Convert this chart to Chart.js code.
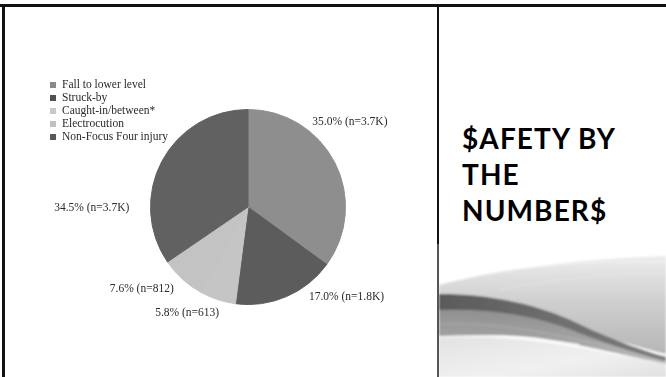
<!DOCTYPE html>
<html>
<head>
<meta charset="utf-8">
<script src="https://cdn.jsdelivr.net/npm/chart.js@4.4.1/dist/chart.umd.min.js"></script>
<style>
  html, body { margin: 0; padding: 0; background: #fff; }
  #slide { position: relative; width: 666px; height: 377px; overflow: hidden; background: #fff; }
  #chartBox { position: absolute; left: 0; top: 0; width: 436px; height: 377px; }
  .rule { position: absolute; background: #111; }
  #title {
    position: absolute; left: 462px; top: 120px;
    font-family: Lato, "DejaVu Sans", sans-serif; font-weight: 700;
    font-size: 28px; line-height: 36px; color: #000; letter-spacing: 1.1px;
  }
  #swoosh { position: absolute; left: 439px; top: 240px; }
</style>
</head>
<body>
<div id="slide">
  <div id="chartBox"><canvas id="injuryPie"></canvas></div>

  <svg id="swoosh" width="227" height="137" viewBox="0 0 227 137">
    <defs>
      <linearGradient id="washFill" x1="0" y1="0" x2="0" y2="1">
        <stop offset="0" stop-color="#ececec"/>
        <stop offset="0.45" stop-color="#d0d0d0"/>
        <stop offset="1" stop-color="#b6b6b6"/>
      </linearGradient>
      <linearGradient id="midFill" x1="0" y1="0" x2="0" y2="1">
        <stop offset="0" stop-color="#8a8a8a"/>
        <stop offset="0.6" stop-color="#a2a2a2"/>
        <stop offset="1" stop-color="#bcbcbc"/>
      </linearGradient>
      <linearGradient id="stripeFill" x1="0" y1="0" x2="1" y2="0">
        <stop offset="0" stop-color="#5a5a5a"/>
        <stop offset="0.5" stop-color="#6e6e6e"/>
        <stop offset="1" stop-color="#7c7c7c"/>
      </linearGradient>
      <linearGradient id="floorFill" x1="0" y1="0" x2="1" y2="1">
        <stop offset="0" stop-color="#e2e2e2"/>
        <stop offset="0.6" stop-color="#f1f1f1"/>
        <stop offset="1" stop-color="#e0e0e0"/>
      </linearGradient>
      <filter id="soft"><feGaussianBlur stdDeviation="0.8"/></filter>
    </defs>
    <g filter="url(#soft)">
      <path d="M0,45 C60,29 140,19 227,16 L227,114 C170,100 90,72 0,58 Z" fill="url(#washFill)"/>
      <path d="M0,60 C50,62 100,72 150,92 C185,106 210,114 227,118 L227,124 C190,116 140,104 100,98 C60,93 30,96 0,98 Z" fill="url(#midFill)"/>
      <path d="M0,54 C45,54 95,62 140,84 C178,102 208,112 227,117 L227,121 C205,116 175,106 140,93 C95,74 45,68 0,70 Z" fill="url(#stripeFill)"/>
      <path d="M0,98 C50,94 110,100 227,124 L227,137 L0,137 Z" fill="url(#floorFill)"/>
      <path d="M20,40 C80,26 150,20 227,22" stroke="#f4f4f4" stroke-width="1.2" fill="none" opacity="0.8"/>
      <path d="M60,50 C120,38 170,34 227,33" stroke="#e8e8e8" stroke-width="1" fill="none" opacity="0.7"/>
      <path d="M0,84 C60,82 120,92 227,122" stroke="#b8b8b8" stroke-width="1" fill="none" opacity="0.7"/>
      <path d="M0,97 C40,95 90,97 140,105" stroke="#f8f8f8" stroke-width="2" fill="none" opacity="0.9"/>
    </g>
  </svg>

  <div id="title">$AFETY BY<br>THE<br>NUMBER$</div>

  <!-- slide frame and panel divider -->
  <div class="rule" style="left:0; top:4px; width:666px; height:3px;"></div>
  <div class="rule" style="left:2px; top:4px; width:3px; height:373px;"></div>
  <div class="rule" style="left:437px; top:4px; width:2px; height:240px;"></div>
  <div class="rule" style="left:437px; top:244px; width:2px; height:133px; background:#555;"></div>
</div>

<script>
// injury categories and their share of cases
const categories = ['Fall to lower level', 'Struck-by', 'Caught-in/between*', 'Electrocution', 'Non-Focus Four injury'];
const percentages = [35.0, 17.0, 5.8, 7.6, 34.5];
const counts = ['3.7K', '1.8K', '613', '812', '3.7K'];
const sliceColors = ['#8e8e8e', '#5c5c5c', '#c5c5c5', '#c3c3c3', '#616161'];
const legendColors = ['#8a8a8a', '#505050', '#c8c8c8', '#c0c0c0', '#585858'];

const serifFont = '11.5px "Liberation Serif", "Times New Roman", serif';

// legend in the top-left corner of the panel
const cornerLegend = {
  id: 'cornerLegend',
  afterDraw(chart, args, opts) {
    const ctx = chart.ctx;
    ctx.save();
    ctx.font = serifFont;
    ctx.textBaseline = 'middle';
    chart.data.labels.forEach((label, i) => {
      const y = opts.top + i * opts.rowHeight;
      ctx.fillStyle = legendColors[i];
      ctx.fillRect(opts.left, y - 3, 6, 6);
      ctx.fillStyle = '#2a2a2a';
      ctx.fillText(label, opts.left + 12, y);
    });
    ctx.restore();
  }
};

// "xx.x% (n=...)" labels outside each slice
const sliceLabels = {
  id: 'sliceLabels',
  afterDatasetsDraw(chart, args, opts) {
    const ctx = chart.ctx;
    const meta = chart.getDatasetMeta(0);
    ctx.save();
    ctx.font = serifFont;
    ctx.fillStyle = '#2a2a2a';
    ctx.textAlign = 'center';
    ctx.textBaseline = 'middle';
    meta.data.forEach((arc, i) => {
      const p = arc.getProps(['x', 'y', 'startAngle', 'endAngle', 'outerRadius'], true);
      const mid = (p.startAngle + p.endAngle) / 2;
      const ax = p.x + Math.cos(mid) * p.outerRadius;
      const ay = p.y + Math.sin(mid) * p.outerRadius;
      const [dx, dy] = opts.nudge[i];
      const value = chart.data.datasets[0].data[i];
      ctx.fillText(value.toFixed(1) + '% (n=' + counts[i] + ')', ax + dx, ay + dy);
    });
    ctx.restore();
  }
};

new Chart(document.getElementById('injuryPie'), {
  type: 'pie',
  data: {
    labels: categories,
    datasets: [{
      data: percentages,
      backgroundColor: sliceColors,
      borderColor: sliceColors,   // same colour as the fill hides the seams
      borderWidth: 1
    }]
  },
  options: {
    responsive: true,
    maintainAspectRatio: false,
    animation: false,
    layout: { padding: { left: 150, top: 108, right: 90, bottom: 71 } },
    plugins: {
      legend: { display: false },
      tooltip: { enabled: false },
      cornerLegend: { left: 50, top: 85, rowHeight: 13 },
      sliceLabels: { nudge: [[15, -41], [60, 0], [-31, 13], [-41, 10], [-70, 47]] }
    }
  },
  plugins: [cornerLegend, sliceLabels]
});
</script>
</body>
</html>
